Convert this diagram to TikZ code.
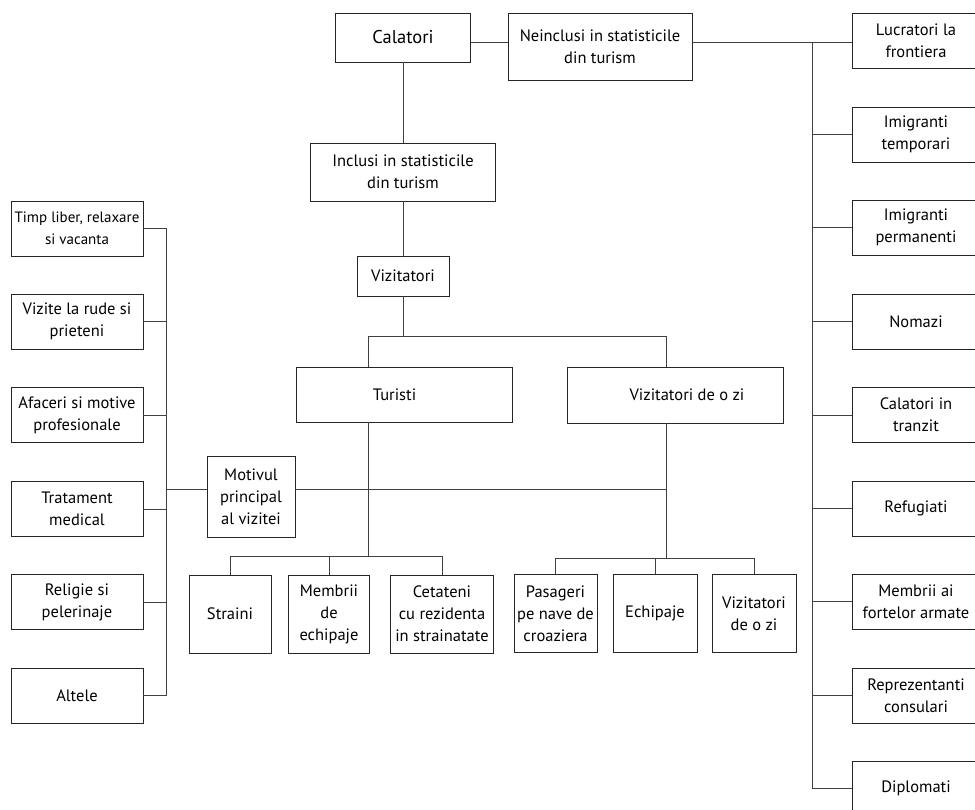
\documentclass[tikz,border=0pt]{standalone}
\usepackage{fontspec}
\setmainfont{PT Sans}
\usepackage{tikz}

\begin{document}
\begin{tikzpicture}[x=1pt, y=-1pt,
% common options for all boxes:
box/.style = {draw=black!85, line width=0.7pt, align=center, inner sep=0,
            font=\fontsize{16.5}{22}\selectfont},
% boxes on the left and on the right:
side/.style = {box, minimum width=132, minimum height=55},
% small boxes under Turisti and Vizitatori de o zi:
leaf/.style = {box, minimum height=78},
% connectors:
wire/.style = {draw=black!75, line width=0.65pt}]
\useasboundingbox (0,0) rectangle (975,810);
% top of the tree
\node[box, minimum width=135, minimum height=49, font=\fontsize{18.5}{22}\selectfont] (cal) at (403,37.5) {Calatori};
\node[box, minimum width=184, minimum height=67] (nein) at (600,46.5) {Neinclusi in statisticile\\din turism};
\node[box, minimum width=185, minimum height=58] (incl) at (403,172) {Inclusi in statisticile\\din turism};
\node[box, minimum width=92, minimum height=40] (viz) at (403,276) {Vizitatori};
\node[box, minimum width=216, minimum height=55] (tur) at (404,394.5) {Turisti\hspace{19pt}};
\node[box, minimum width=216, minimum height=56] (vzi) at (675,395) {\hspace{24pt}Vizitatori de o zi};
\node[box, minimum width=88, minimum height=81] (mot) at (251,496.5) {Motivul\\principal\\al vizitei};
% leaves
\node[leaf, minimum width=82] (str) at (230,614) {Straini};
\node[leaf, minimum width=81] (mem) at (329,614) {Membrii\\de\\echipaje};
\node[leaf, minimum width=103] (cet) at (442,614) {Cetateni\\cu rezidenta\\in strainatate};
\node[leaf, minimum width=83] (pas) at (555.5,613.5) {Pasageri\\pe nave de\\croaziera};
\node[leaf, minimum width=84] (ech) at (655,613.5) {Echipaje};
\node[leaf, minimum width=84] (vzm) at (754,613.5) {Vizitatori\\de o zi};
% left column
\node[side, font=\fontsize{15}{22}\selectfont] (L1) at (77,228.5) {Timp liber, relaxare\\si vacanta};
\node[side] (L2) at (77,321.5) {Vizite la rude si\\prieteni};
\node[side] (L3) at (77,415) {Afaceri si motive\\profesionale};
\node[side] (L4) at (77,509) {Tratament\\medical};
\node[side] (L5) at (77,602) {Religie si\\pelerinaje};
\node[side] (L6) at (77,695.5) {Altele};
% right column
\node[side, minimum width=128] (R1) at (916,40.5) {Lucratori la\\frontiera};
\node[side, minimum width=128] (R2) at (916,134.5) {Imigranti\\temporari};
\node[side, minimum width=128] (R3) at (916,227.5) {Imigranti\\permanenti};
\node[side, minimum width=128] (R4) at (916,321.5) {Nomazi};
\node[side, minimum width=128] (R5) at (916,415) {Calatori in\\tranzit};
\node[side, minimum width=128] (R6) at (916,508.5) {Refugiati};
\node[side, minimum width=128] (R7) at (916,601.5) {Membrii ai\\fortelor armate};
\node[side, minimum width=128] (R8) at (916,695.5) {Reprezentanti\\consulari};
\node[side, minimum width=128] (R9) at (916,788.5) {Diplomati};
% junctions
\coordinate (rt) at (812,42);
\coordinate (lt) at (166,0);
\coordinate (j1) at (368,336);
\coordinate (j2) at (666,336);
\coordinate (mh) at (0,489);
\coordinate (tb) at (0,556);
\coordinate (vb) at (0,558);
% main stem
\draw[wire] (cal.east |- rt) -- (nein.west |- rt);
\draw[wire] (cal.south) -- (incl.north);
\draw[wire] (incl.south) -- (viz.north);
\draw[wire] (viz.south) -- (viz.south |- j1);
\draw[wire] (tur.north -| j1) -- (j1) -- (j2) -- (vzi.north -| j2);
% right trunk
\draw[wire] (nein.east |- rt) -- (R1.west |- rt);
\draw[wire] (rt) -- (rt |- R9.west) -- (R9.west);
\draw[wire] (rt |- R2.west) -- (R2.west);
\draw[wire] (rt |- R3.west) -- (R3.west);
\draw[wire] (rt |- R4.west) -- (R4.west);
\draw[wire] (rt |- R5.west) -- (R5.west);
\draw[wire] (rt |- R6.west) -- (R6.west);
\draw[wire] (rt |- R7.west) -- (R7.west);
\draw[wire] (rt |- R8.west) -- (R8.west);
% left trunk
\draw[wire] (L1.east) -- (L1.east -| lt) -- (L6.east -| lt) -- (L6.east);
\draw[wire] (L2.east) -- (L2.east -| lt);
\draw[wire] (L3.east) -- (L3.east -| lt);
\draw[wire] (L4.east) -- (L4.east -| lt);
\draw[wire] (L5.east) -- (L5.east -| lt);
\draw[wire] (lt |- mh) -- (mot.west |- mh);
\draw[wire] (mot.east |- mh) -- (j2 |- mh);
% Turisti
\draw[wire] (tur.south -| j1) -- (j1 |- tb);
\draw[wire] (str.north) -- (str.north |- tb) -- (cet.north |- tb) -- (cet.north);
\draw[wire] (mem.north) -- (mem.north |- tb);
% Vizitatori de o zi
\draw[wire] (vzi.south -| j2) -- (j2 |- vb);
\draw[wire] (pas.north) -- (pas.north |- vb) -- (vzm.north |- vb) -- (vzm.north);
\draw[wire] (ech.north) -- (ech.north |- vb);
\end{tikzpicture}
\end{document}
